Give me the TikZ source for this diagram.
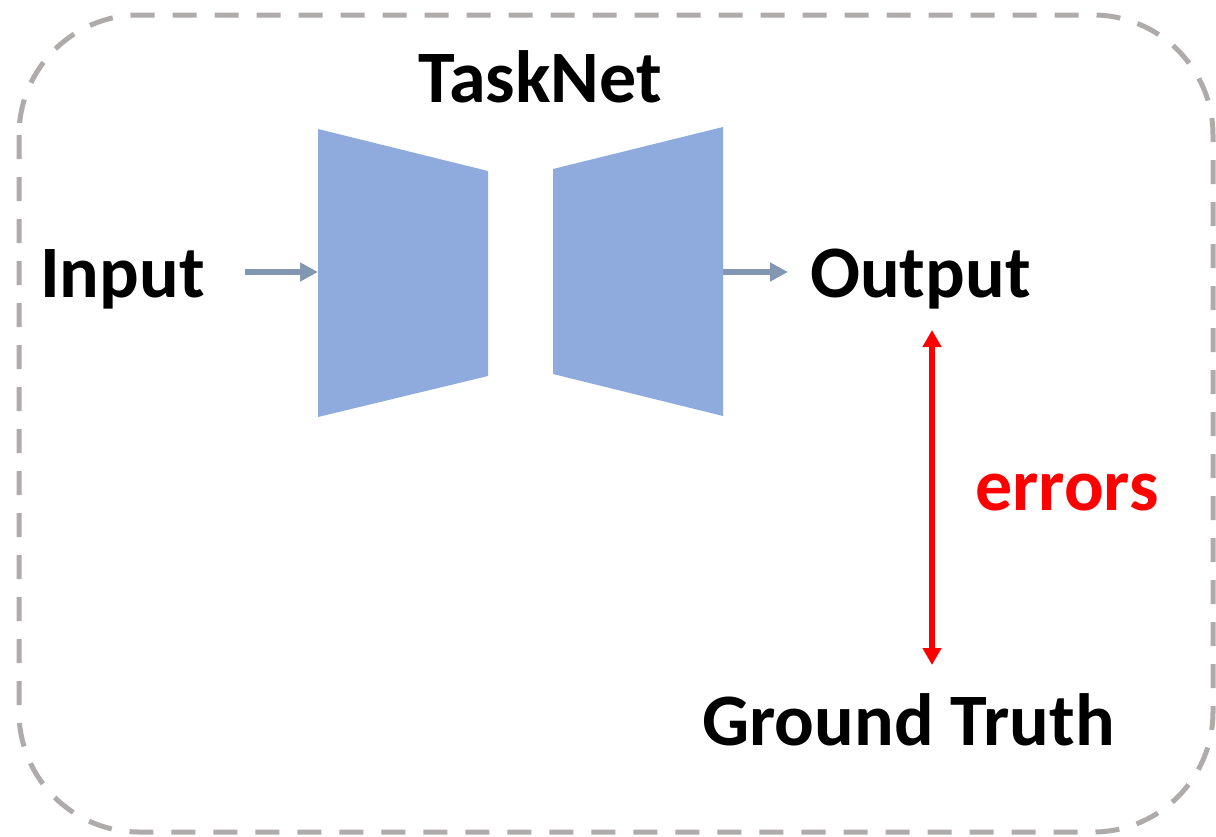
\documentclass[tikz,border=0pt]{standalone}
\usepackage{fontspec}
\setmainfont{Carlito}
\usetikzlibrary{arrows.meta}
\definecolor{netblue}{HTML}{8FAADC}
\definecolor{arrowgray}{HTML}{8497B0}
\definecolor{bordergray}{HTML}{AFABAB}
\tikzset{
  lbl/.style={inner sep=0pt, anchor=base west, font=\bfseries\fontsize{74}{88}\selectfont},
  netpart/.style={fill=netblue, draw=none},
  flowarrow/.style={draw=arrowgray, line width=5.5pt, -{Triangle[length=18pt,width=18pt]}},
  errarrow/.style={draw=red, line width=5.5pt, {Triangle[length=17pt,width=18pt]}-{Triangle[length=17pt,width=18pt]}},
}
\begin{document}
\begin{tikzpicture}[x=1pt,y=-1pt]
\useasboundingbox (0,0) rectangle (1216,836);
\draw[bordergray, line width=5pt, dash pattern=on 24pt off 18pt, rounded corners=120pt]
  (19,15) rectangle (1213,832);
% encoder / decoder
\fill[netpart] (318,129) -- (488,171) -- (488,376) -- (318,417) -- cycle;
\fill[netpart] (553,169) -- (723,127) -- (723,416) -- (553,374) -- cycle;
\coordinate (encin) at (318,272);
\coordinate (decout) at (723,272);
% labels
\node[lbl] (tasknet) at (418,102) {TaskNet};
\node[lbl] (input) at (40,297) {Input};
\node[lbl] (output) at (810,297) {Output};
\node[lbl, text=red] (errors) at (975,510) {errors};
\node[lbl] (gt) at (702,745) {Ground Truth};
\coordinate (intail) at (245,272);
\coordinate (outhead) at (788,272);
\coordinate (errtop) at (932,330);
\coordinate (errbot) at (932,665);
\draw[flowarrow] (intail) -- (encin);
\draw[flowarrow] (decout) -- (outhead);
\draw[errarrow] (errtop) -- (errbot);
\end{tikzpicture}
\end{document}
